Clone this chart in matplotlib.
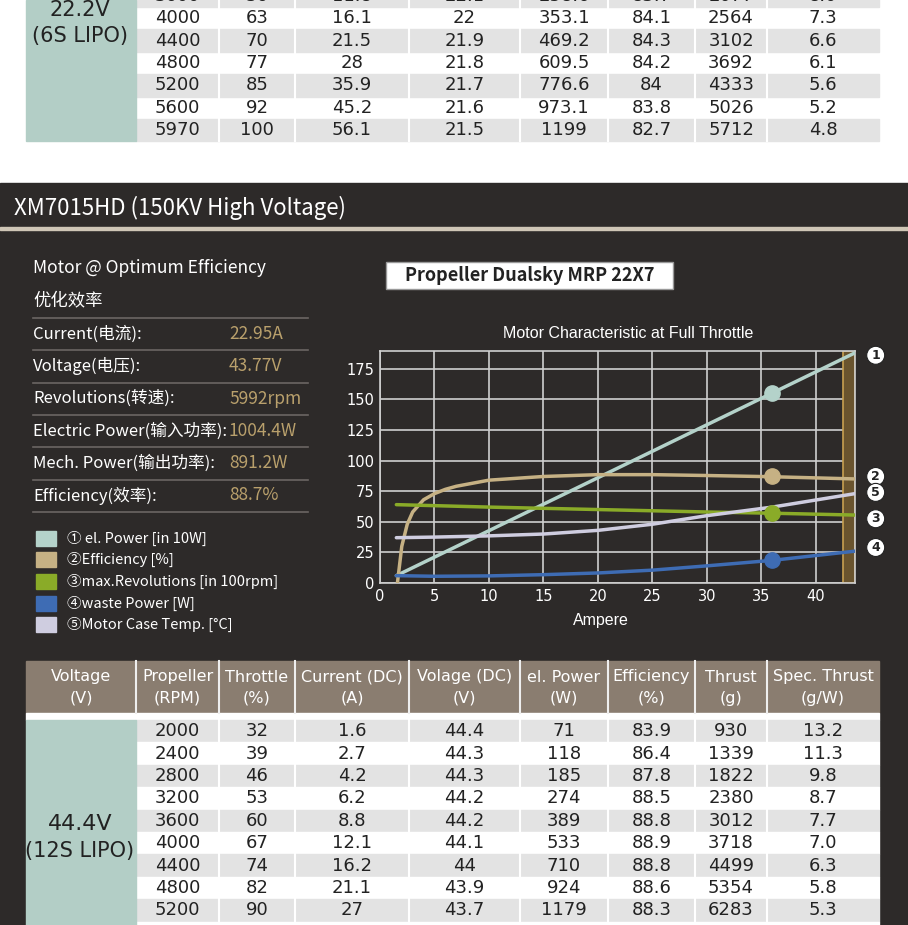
import matplotlib.pyplot as plt
from matplotlib.patches import Rectangle

NARROW = ['Liberation Sans Narrow', 'DejaVu Sans']
CJK = ['Noto Sans CJK SC', 'DejaVu Sans']

# ---------------- data ----------------
top_rows = [
    ["3600", "56", "11.8", "22.1", "258.6", "83.7", "2077", "8.0"],
    ["4000", "63", "16.1", "22", "353.1", "84.1", "2564", "7.3"],
    ["4400", "70", "21.5", "21.9", "469.2", "84.3", "3102", "6.6"],
    ["4800", "77", "28", "21.8", "609.5", "84.2", "3692", "6.1"],
    ["5200", "85", "35.9", "21.7", "776.6", "84", "4333", "5.6"],
    ["5600", "92", "45.2", "21.6", "973.1", "83.8", "5026", "5.2"],
    ["5970", "100", "56.1", "21.5", "1199", "82.7", "5712", "4.8"],
]
bottom_header = [("Voltage", "(V)"), ("Propeller", "(RPM)"), ("Throttle", "(%)"),
                 ("Current (DC)", "(A)"), ("Volage (DC)", "(V)"), ("el. Power", "(W)"),
                 ("Efficiency", "(%)"), ("Thrust", "(g)"), ("Spec. Thrust", "(g/W)")]
bottom_rows = [
    ["2000", "32", "1.6", "44.4", "71", "83.9", "930", "13.2"],
    ["2400", "39", "2.7", "44.3", "118", "86.4", "1339", "11.3"],
    ["2800", "46", "4.2", "44.3", "185", "87.8", "1822", "9.8"],
    ["3200", "53", "6.2", "44.2", "274", "88.5", "2380", "8.7"],
    ["3600", "60", "8.8", "44.2", "389", "88.8", "3012", "7.7"],
    ["4000", "67", "12.1", "44.1", "533", "88.9", "3718", "7.0"],
    ["4400", "74", "16.2", "44", "710", "88.8", "4499", "6.3"],
    ["4800", "82", "21.1", "43.9", "924", "88.6", "5354", "5.8"],
    ["5200", "90", "27", "43.7", "1179", "88.3", "6283", "5.3"],
]
opt_labels = ["Current(电流):", "Voltage(电压):", "Revolutions(转速):",
              "Electric Power(输入功率):", "Mech. Power(输出功率):", "Efficiency(效率):"]
opt_values = ["22.95A", "43.77V", "5992rpm", "1004.4W", "891.2W", "88.7%"]

legend_labels = ["① el. Power [in 10W]", "②Efficiency [%]", "③max.Revolutions [in 100rpm]",
                 "④waste Power [W]", "⑤Motor Case Temp. [°C]"]
colors = ["#b4d2ca", "#c6b184", "#8aab28", "#3e6cb4", "#cfcde0"]

# curves (Ampere -> value)
amps_power = [1.5, 43.6]
el_power = [6, 188]
amps_eff = [1.6, 2.0, 2.5, 3.0, 4.0, 5.0, 6.0, 7.0, 10, 15, 20, 25, 30, 36, 43.6]
efficiency = [0, 30, 48, 58, 68, 73, 76.5, 79, 84, 87, 88.5, 88.5, 87.8, 86.8, 85]
amps_rev = [1.5, 10, 20, 30, 36, 43.6]
revolutions = [64, 62, 60, 58, 57, 55.5]
amps_waste = [1.5, 5, 10, 15, 20, 25, 30, 36, 43.6]
waste = [6, 5.5, 5.8, 6.8, 8.2, 10.5, 14, 18.5, 26]
amps_temp = [1.5, 5, 10, 15, 20, 25, 30, 36, 43.6]
temp = [37, 37.5, 38.5, 40, 43, 48, 55, 62, 73]
marker_amp = 36
marker_vals = [155, 87, 57.5, 18.5]

col_edges = [26, 136, 219, 295, 409, 520, 608, 695, 767, 879]
col_centers = [(a + b) / 2 for a, b in zip(col_edges[:-1], col_edges[1:])]

fig = plt.figure(figsize=(9.08, 9.25), dpi=100)
ax = fig.add_axes([0, 0, 1, 1])
ax.set_xlim(0, 908)
ax.set_ylim(925, 0)
ax.axis('off')

# backgrounds
ax.add_patch(Rectangle((0, 0), 908, 183, color='white'))
ax.add_patch(Rectangle((0, 183), 908, 742, color='#2d2a29'))
ax.add_patch(Rectangle((0, 227), 908, 3, color='#cfc6b6'))
ax.text(14, 208, "XM7015HD (150KV High Voltage)", color='white', fontsize=16,
        va='center', family=CJK)

# ---------------- top table ----------------
rh = 22.4
y0 = -15.5
for i, row in enumerate(top_rows):
    y = y0 + i * rh
    if i % 2 == 0:
        ax.add_patch(Rectangle((136, y), 743, rh, color='#e3e3e3'))
    for c, v in zip(col_centers[1:], row):
        ax.text(c, y + rh / 2, v, ha='center', va='center', fontsize=13,
                color='#222222', family=NARROW)
for xe in col_edges[2:-1]:
    ax.plot([xe, xe], [0, y0 + len(top_rows) * rh], color='white', lw=1.5)
ax.add_patch(Rectangle((26, 0), 110, y0 + len(top_rows) * rh, color='#b3cec6'))
ax.text(80, 10, "22.2V", ha='center', va='center', fontsize=15, color='#222222', family=NARROW)
ax.text(80, 36, "(6S LIPO)", ha='center', va='center', fontsize=15, color='#222222', family=NARROW)

# ---------------- left panel ----------------
ax.text(33, 268, "Motor @ Optimum Efficiency", color='white', fontsize=12.5, va='center', family=CJK)
ax.text(33, 300, "优化效率", color='white', fontsize=12.5, va='center', family=CJK)
for i, (lab, val) in enumerate(zip(opt_labels, opt_values)):
    yl = 318 + i * 32.3
    ax.plot([33, 308], [yl, yl], color='#6b6663', lw=1.2)
    ax.text(33, yl + 16, lab, color='white', fontsize=12, va='center', family=CJK)
    ax.text(229, yl + 16, val, color='#b9a06c', fontsize=12.5, va='center', family=CJK)
ax.plot([33, 308], [512, 512], color='#6b6663', lw=1.2)
for i, (lab, col) in enumerate(zip(legend_labels, colors)):
    yc = 538 + i * 21.7
    ax.add_patch(Rectangle((36, yc - 7.5), 20, 15, color=col))
    ax.text(67, yc, lab, color='white', fontsize=10.5, va='center', family=CJK)

# title box
ax.add_patch(Rectangle((386, 262), 287, 27, facecolor='white', edgecolor='#999999'))
ax.text(530, 275.5, "Propeller Dualsky MRP 22X7", ha='center', va='center', fontsize=13,
        fontweight='bold', color='#222222', family=CJK)
ax.text(628, 333, "Motor Characteristic at Full Throttle", ha='center', va='center',
        fontsize=11.5, color='white', family=['Liberation Sans', 'DejaVu Sans'])
ax.text(601, 621, "Ampere", ha='center', va='center', fontsize=11.5, color='white',
        family=['Liberation Sans', 'DejaVu Sans'])

# ---------------- bottom table ----------------
ax.add_patch(Rectangle((26, 661), 853, 52, color='#8a7d70'))
ax.add_patch(Rectangle((26, 713), 853, 7, color='white'))
for c, (l1, l2) in zip(col_centers, bottom_header):
    ax.text(c, 677, l1, ha='center', va='center', fontsize=11.5, color='white', family=NARROW)
    ax.text(c, 698, l2, ha='center', va='center', fontsize=11.5, color='white', family=NARROW)
for xe in col_edges[1:-1]:
    ax.plot([xe, xe], [661, 713], color='#eeeeee', lw=1.5)
yb = 720
for i, row in enumerate(bottom_rows + [[""] * 8]):
    y = yb + i * rh
    ax.add_patch(Rectangle((136, y), 743, rh, color='#e3e3e3' if i % 2 == 0 else 'white'))
    for c, v in zip(col_centers[1:], row):
        ax.text(c, y + rh / 2, v, ha='center', va='center', fontsize=13,
                color='#222222', family=NARROW)
for xe in col_edges[2:-1]:
    ax.plot([xe, xe], [720, 925], color='white', lw=1.5)
ax.add_patch(Rectangle((26, 720), 110, 205, color='#b3cec6'))
ax.text(80, 824, "44.4V", ha='center', va='center', fontsize=16, color='#222222', family=NARROW)
ax.text(80, 851, "(12S LIPO)", ha='center', va='center', fontsize=15, color='#222222', family=NARROW)

# ---------------- chart ----------------
cx = fig.add_axes([380 / 908, 1 - 583 / 925, 475 / 908, 232 / 925])
cx.set_facecolor('none')
cx.set_xlim(0, 43.6)
cx.set_ylim(0, 189.5)
cx.set_xticks(range(0, 45, 5))
cx.set_yticks(range(0, 200, 25))
cx.grid(True, color='#cfcfcf', lw=1.2)
cx.tick_params(colors='white', labelsize=10.5, length=0, pad=4)
for s in cx.spines.values():
    s.set_color('#cfcfcf')
    s.set_linewidth(1.2)
cx.axvspan(42.5, 43.6, facecolor='#6a542e', edgecolor='#c8a050', lw=1.2, zorder=2)

series = [(amps_power, el_power), (amps_eff, efficiency), (amps_rev, revolutions),
          (amps_waste, waste), (amps_temp, temp)]
for (xs, ys), col in zip(series, colors):
    cx.plot(xs, ys, color=col, lw=2.5, zorder=3, solid_capstyle='round')
for v, col in zip(marker_vals, colors[:4]):
    cx.plot(marker_amp, v, 'o', ms=11, color=col, zorder=4)

# numbered markers at right
end_vals = [el_power[-1] - 2, efficiency[-1] + 2, revolutions[-1] - 3, waste[-1] + 3, temp[-1] + 1]
for n, v in enumerate(end_vals, start=1):
    cx.text(45.5, v, str(n), ha='center', va='center', fontsize=9, fontweight='bold',
            color='#222222', clip_on=False,
            bbox=dict(boxstyle='circle,pad=0.2', fc='white', ec='#222222', lw=0.8))

fig.savefig('out.png', dpi=100)
